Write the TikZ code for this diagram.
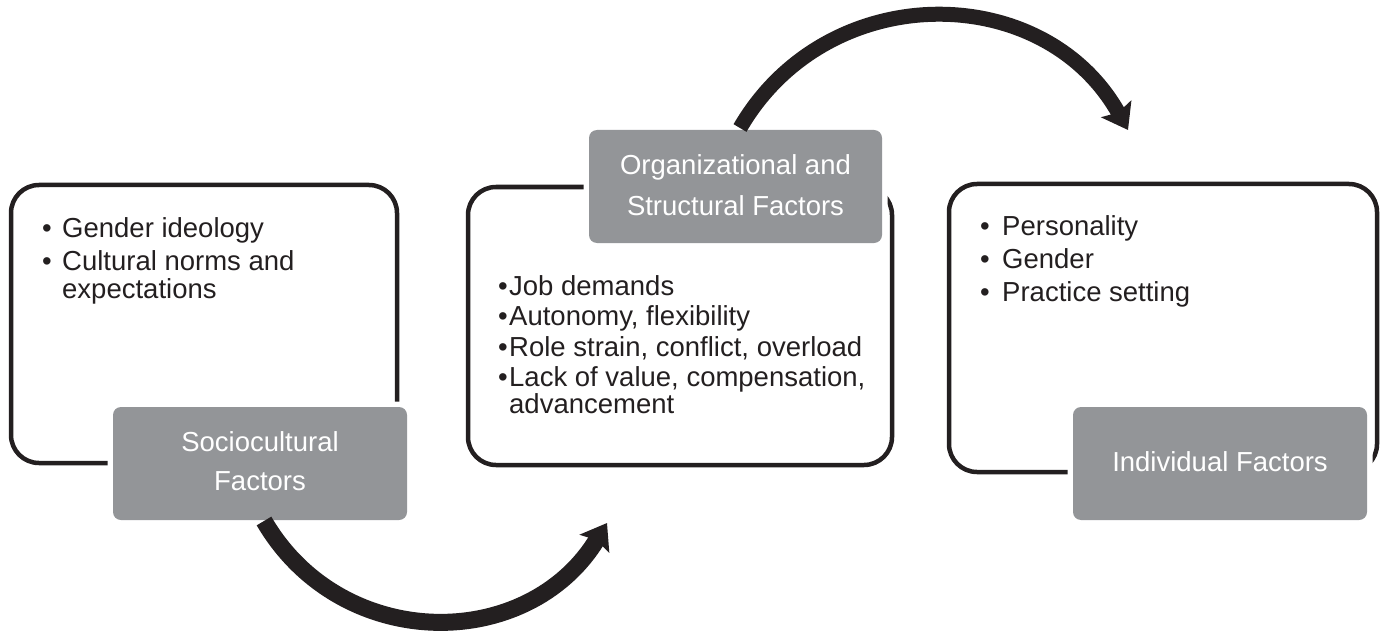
\documentclass[tikz,border=0pt]{standalone}
\usepackage{fontspec}
\setmainfont{Liberation Sans}
\usetikzlibrary{arrows.meta}
\definecolor{ink}{HTML}{231F20}
\definecolor{gr}{HTML}{939598}
\begin{document}
\begin{tikzpicture}[x=1pt,y=-1pt,
  outl/.style={draw=ink, line width=4.5pt, rounded corners=28pt, inner sep=0pt},
  gbox/.style={fill=gr, rounded corners=8pt, inner sep=0pt,
               minimum width=294pt, minimum height=113pt,
               preaction={draw=white, line width=11pt}},
  txt/.style={inner sep=0pt, anchor=base west, text=ink,
              font=\fontsize{27.5}{31}\selectfont},
  bul/.style={inner sep=0pt, anchor=base, text=ink,
              font=\fontsize{27.5}{31}\selectfont},
  wtxt/.style={inner sep=0pt, anchor=base, text=white,
               font=\fontsize{27.5}{31}\selectfont},
  bigarrow/.style={draw=ink, -{Stealth[length=24pt, width=34pt, inset=4pt]}}
]
\useasboundingbox (0,0) rectangle (1380,631);

% outline boxes
\node[outl, minimum width=386pt, minimum height=278pt] (sbox) at (204,324) {};
\node[outl, minimum width=424pt, minimum height=278pt] (obox) at (680,326) {};
\node[outl, minimum width=428pt, minimum height=288pt] (ibox) at (1163,328) {};

% gray title boxes
\node[gbox] (sg) at (260,463.5) {};
\node[gbox, minimum width=293pt] (og) at (735.5,186.5) {};
\node[gbox] (ig) at (1220,463.5) {};

% titles
\node[wtxt] (sg1) at (260,451.5) {Sociocultural};
\node[wtxt] (sg2) at (260,490.5) {Factors};
\node[wtxt] (og1) at (735.5,175) {Organizational and};
\node[wtxt] (og2) at (735.5,215) {Structural Factors};
\node[wtxt] (ig1) at (1220,471.5) {Individual Factors};

% box 1 items
\node[bul] (sb1) at (47,237) {•};
\node[txt] (st1) at (62,237) {Gender ideology};
\node[bul] (sb2) at (47,270) {•};
\node[txt] (st2) at (62,270) {Cultural norms and};
\node[txt] (st3) at (62,298.5) {expectations};

% box 2 items
\node[bul] (ob1) at (503,295) {•};
\node[txt] (ot1) at (509,295) {Job demands};
\node[bul] (ob2) at (503,325) {•};
\node[txt] (ot2) at (509,325) {Autonomy, flexibility};
\node[bul] (ob3) at (503,356.5) {•};
\node[txt] (ot3) at (509,356.5) {Role strain, conflict, overload};
\node[bul] (ob4) at (503,386.5) {•};
\node[txt] (ot4) at (509,386.5) {Lack of value, compensation,};
\node[txt] (ot5) at (509,413.5) {advancement};

% box 3 items
\node[bul] (ib1) at (985,235) {•};
\node[txt] (it1) at (1002,235) {Personality};
\node[bul] (ib2) at (985,268.5) {•};
\node[txt] (it2) at (1002,268.5) {Gender};
\node[bul] (ib3) at (985,301.5) {•};
\node[txt] (it3) at (1002,301.5) {Practice setting};

% arrows
\coordinate (a1s) at (264,521);
\coordinate (a1e) at (607,523);
\draw[bigarrow, line width=17pt] (a1s) .. controls (341,653) and (528,653) .. (a1e);
\coordinate (a2s) at (740,128);
\coordinate (a2e) at (1128,130);
\draw[bigarrow, line width=15pt] (a2s) .. controls (827,-22) and (1044,-20.5) .. (a2e);
\end{tikzpicture}
\end{document}
